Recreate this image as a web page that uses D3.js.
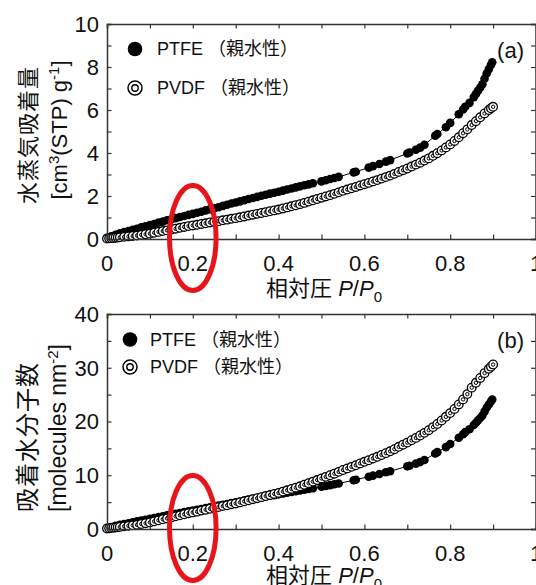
<!DOCTYPE html>
<html>
<head>
<meta charset="utf-8">
<script src="https://cdn.jsdelivr.net/npm/d3@7"></script>
<style>
body{margin:0;background:#fff;}
svg{display:block;}
text{font-family:'Liberation Sans', Arial, 'Noto Sans CJK JP', sans-serif;fill:#111;}
</style>
</head>
<body>
<svg id="chart" width="536" height="585"></svg>
<script>
// ---------------- data ----------------
const xTicks = [0, 0.2, 0.4, 0.6, 0.8, 1];
const yTicksA = [0, 2, 4, 6, 8, 10];
const yTicksB = [0, 10, 20, 30, 40];
const legendNames = ["PTFE （親水性）", "PVDF （親水性）"];
const panelLabels = ["(a)", "(b)"];

const xPTFE = [0, 0.005, 0.01, 0.02, 0.03, 0.04, 0.05, 0.06, 0.07, 0.08, 0.09, 0.1, 0.11, 0.12, 0.13, 0.14, 0.15, 0.16, 0.17, 0.18, 0.19, 0.2, 0.21, 0.22, 0.23, 0.24, 0.25, 0.26, 0.27, 0.28, 0.29, 0.3, 0.31, 0.32, 0.33, 0.34, 0.35, 0.36, 0.37, 0.38, 0.39, 0.4, 0.41, 0.42, 0.43, 0.44, 0.45, 0.46, 0.47, 0.48,
  0.5, 0.51, 0.52, 0.53, 0.54, 0.575, 0.58, 0.61, 0.62, 0.635, 0.65, 0.66, 0.7, 0.705, 0.72, 0.73, 0.74, 0.765, 0.77, 0.79, 0.8,
  0.82, 0.83, 0.835, 0.845, 0.855, 0.86, 0.865, 0.87, 0.875, 0.88, 0.885, 0.89, 0.895, 0.898];
const ptfeA = [0.02, 0.08, 0.13, 0.2, 0.26, 0.32, 0.37, 0.43, 0.48, 0.54, 0.59, 0.65, 0.7, 0.76, 0.81, 0.87, 0.92, 0.97, 1.02, 1.07, 1.12, 1.17, 1.22, 1.27, 1.33, 1.38, 1.43, 1.48, 1.54, 1.59, 1.65, 1.7, 1.75, 1.8, 1.86, 1.91, 1.96, 2.01, 2.06, 2.11, 2.15, 2.2, 2.25, 2.3, 2.35, 2.4, 2.45, 2.5, 2.54, 2.59,
  2.68, 2.73, 2.79, 2.84, 2.89, 3.1, 3.13, 3.32, 3.39, 3.49, 3.6, 3.67, 3.98, 4.02, 4.15, 4.25, 4.38, 4.8, 4.88, 5.2, 5.4,
  5.8, 6.02, 6.15, 6.33, 6.6, 6.75, 6.9, 7.05, 7.2, 7.45, 7.7, 7.9, 8.1, 8.22];
const ptfeB = [0.06, 0.23, 0.38, 0.59, 0.76, 0.94, 1.08, 1.26, 1.41, 1.58, 1.73, 1.9, 2.05, 2.23, 2.37, 2.55, 2.7, 2.84, 2.99, 3.14, 3.28, 3.43, 3.57, 3.72, 3.9, 4.04, 4.19, 4.34, 4.51, 4.66, 4.83, 4.98, 5.13, 5.27, 5.45, 5.6, 5.74, 5.89, 6.04, 6.18, 6.3, 6.45, 6.59, 6.74, 6.89, 7.03, 7.18, 7.33, 7.44, 7.59,
  7.85, 8.0, 8.17, 8.32, 8.47, 9.08, 9.17, 9.73, 9.93, 10.23, 10.55, 10.75, 11.66, 11.78, 12.16, 12.45, 12.83, 14.06, 14.3, 15.24, 15.82,
  16.99, 17.64, 18.02, 18.55, 19.34, 19.78, 20.22, 20.66, 21.1, 21.83, 22.56, 23.15, 23.73, 24.08];

const xPVDF = [0, 0.005, 0.01, 0.015, 0.02, 0.025, 0.03,
  0.04, 0.05, 0.06, 0.07, 0.08, 0.09, 0.1, 0.11, 0.12, 0.13,
  0.14, 0.15, 0.16, 0.17, 0.18, 0.19, 0.2, 0.21, 0.22, 0.23,
  0.24, 0.25, 0.26, 0.27, 0.28, 0.29, 0.3, 0.31, 0.32, 0.33,
  0.34, 0.35, 0.36, 0.37, 0.38, 0.39, 0.4, 0.41, 0.42, 0.43,
  0.44, 0.45, 0.46, 0.47, 0.48, 0.49, 0.5, 0.51, 0.52, 0.53,
  0.54, 0.55, 0.56, 0.57, 0.58, 0.59, 0.6, 0.61, 0.62, 0.63,
  0.64, 0.65, 0.66, 0.67, 0.68, 0.69, 0.7, 0.71, 0.72, 0.73,
  0.74, 0.75, 0.76, 0.77, 0.78, 0.79, 0.8, 0.81, 0.82, 0.83,
  0.84, 0.85, 0.86, 0.87, 0.88, 0.89, 0.895, 0.9];
const pvdfA = [0.02, 0.03, 0.04, 0.05, 0.06, 0.07, 0.08,
  0.1, 0.12, 0.14, 0.16, 0.19, 0.22, 0.25, 0.29, 0.33, 0.37,
  0.4, 0.44, 0.48, 0.52, 0.56, 0.6, 0.63, 0.66, 0.7, 0.73,
  0.77, 0.8, 0.83, 0.87, 0.9, 0.94, 0.97, 1.01, 1.05, 1.09,
  1.13, 1.17, 1.21, 1.25, 1.29, 1.33, 1.37, 1.42, 1.47, 1.52,
  1.57, 1.62, 1.68, 1.74, 1.8, 1.86, 1.92, 1.98, 2.04, 2.1,
  2.17, 2.24, 2.3, 2.36, 2.42, 2.49, 2.55, 2.61, 2.68, 2.74,
  2.81, 2.88, 2.95, 3.03, 3.12, 3.2, 3.28, 3.37, 3.46, 3.55,
  3.65, 3.75, 3.87, 3.99, 4.12, 4.26, 4.4, 4.56, 4.73, 4.92,
  5.1, 5.3, 5.48, 5.66, 5.84, 6.0, 6.08, 6.15];
const pvdfB = [0.1, 0.15, 0.2, 0.25, 0.29, 0.34, 0.39,
  0.49, 0.59, 0.69, 0.78, 0.93, 1.08, 1.23, 1.42, 1.62, 1.81,
  1.96, 2.16, 2.35, 2.55, 2.74, 2.94, 3.09, 3.23, 3.43, 3.58,
  3.77, 3.92, 4.07, 4.26, 4.41, 4.61, 4.75, 4.95, 5.15, 5.34,
  5.54, 5.73, 5.93, 6.13, 6.32, 6.52, 6.71, 6.96, 7.2, 7.45,
  7.69, 7.94, 8.23, 8.53, 8.82, 9.11, 9.41, 9.7, 10.0, 10.29,
  10.63, 10.98, 11.27, 11.56, 11.86, 12.2, 12.5, 12.79, 13.13, 13.43,
  13.77, 14.11, 14.46, 14.85, 15.29, 15.68, 16.07, 16.51, 16.95, 17.4,
  17.89, 18.38, 18.96, 19.55, 20.19, 20.87, 21.56, 22.34, 23.18, 24.11,
  25.1, 26.3, 27.2, 28.1, 29.0, 29.8, 30.2, 30.6];

// ---------------- drawing ----------------
const svg = d3.select("#chart");
const AX = "#333";
const RED = "#e8141b";

const panels = [
  { top: 24, bottom: 239, ymax: 10, yTicks: yTicksA, yMinor: 1, ptfe: ptfeA, pvdf: pvdfA, label: panelLabels[0],
    legY: [49, 88], legMX: 135, legTX: 157,
    yTitle1: "水蒸気吸着量", t1x: 28, t1y: 135, t1size: 22,
    yTitle2: [["[cm", 0], ["3", 1], ["(STP) g", 0], ["-1", 1], ["]", 0]], t2x: 59, t2y: 130, t2size: 22,
    xtickBase: 271, xtitleBase: 296, labelBase: 57.5 },
  { top: 314, bottom: 529, ymax: 40, yTicks: yTicksB, yMinor: 5, ptfe: ptfeB, pvdf: pvdfB, label: panelLabels[1],
    legY: [339.5, 367], legMX: 130, legTX: 150,
    yTitle1: "吸着水分子数", t1x: 27, t1y: 437, t1size: 24,
    yTitle2: [["[molecules nm", 0], ["-2", 1], ["]", 0]], t2x: 58, t2y: 428, t2size: 23,
    xtickBase: 561, xtitleBase: 583, labelBase: 347.5 }
];

const left = 107, right = 536;
const x = d3.scaleLinear().domain([0, 1]).range([left, right]);

panels.forEach(p => {
  const y = d3.scaleLinear().domain([0, p.ymax]).range([p.bottom, p.top]);
  const g = svg.append("g");

  // data
  const line = d3.line().x(d => x(d[0])).y(d => y(d[1]));
  const ptfeData = xPTFE.map((v, i) => [v, p.ptfe[i]]);
  const pvdfData = xPVDF.map((v, i) => [v, p.pvdf[i]]);

  g.append("path").datum(ptfeData).attr("d", line)
    .attr("fill", "none").attr("stroke", "#000").attr("stroke-width", 1);
  g.selectAll(".ptfe").data(ptfeData).join("circle")
    .attr("cx", d => x(d[0])).attr("cy", d => y(d[1])).attr("r", 4.3).attr("fill", "#000");

  g.append("path").datum(pvdfData).attr("d", line)
    .attr("fill", "none").attr("stroke", "#000").attr("stroke-width", 0.8);
  const pv = g.selectAll(".pvdf").data(pvdfData).join("g")
    .attr("transform", d => `translate(${x(d[0])},${y(d[1])})`);
  pv.append("circle").attr("r", 4.3).attr("fill", "#fff").attr("stroke", "#000").attr("stroke-width", 1.3);
  pv.append("circle").attr("r", 1.7).attr("fill", "none").attr("stroke", "#000").attr("stroke-width", 1);

  // axes (ticks inward, all four sides)
  const xMinor = d3.range(0, 1.0001, 0.1);
  const yMinor = d3.range(0, p.ymax + 0.0001, p.yMinor);
  const bottomAxis = d3.axisTop(x).tickValues(xMinor).tickSize(4.5).tickFormat("");
  const topAxis = d3.axisBottom(x).tickValues(xMinor).tickSize(4.5).tickFormat("");
  const leftAxis = d3.axisRight(y).tickValues(yMinor).tickSize(4.5).tickFormat("");
  const rightAxis = d3.axisLeft(y).tickValues(yMinor).tickSize(4.5).tickFormat("");
  const axes = [
    [bottomAxis, `translate(0,${p.bottom})`],
    [topAxis, `translate(0,${p.top})`],
    [leftAxis, `translate(${left},0)`],
    [rightAxis, `translate(${right - 0.5},0)`]
  ];
  axes.forEach(([ax, tr]) => {
    const a = g.append("g").attr("transform", tr).call(ax);
    a.select(".domain").attr("stroke", AX).attr("stroke-width", 1.5);
    a.selectAll(".tick line").attr("stroke", AX).attr("stroke-width", 1.2);
  });

  // tick labels
  g.selectAll(".xl").data(xTicks).join("text")
    .attr("x", d => x(d)).attr("y", p.xtickBase)
    .attr("text-anchor", "middle").attr("font-size", 22)
    .text(d => d3.format("")(d));
  g.selectAll(".yl").data(p.yTicks).join("text")
    .attr("x", 99).attr("y", d => y(d)).attr("dy", "0.36em")
    .attr("text-anchor", "end").attr("font-size", 22)
    .text(d => d);

  // x title
  const xt = g.append("text").attr("x", 266).attr("y", p.xtitleBase).attr("font-size", 22);
  xt.append("tspan").text("相対圧 ");
  xt.append("tspan").attr("font-style", "italic").text("P");
  xt.append("tspan").text("/");
  xt.append("tspan").attr("font-style", "italic").text("P");
  xt.append("tspan").attr("font-size", 15).attr("dy", 6).text("0");

  // y title
  g.append("text")
    .attr("transform", `translate(${p.t1x},${p.t1y}) rotate(-90)`)
    .attr("text-anchor", "middle").attr("dominant-baseline", "central")
    .attr("font-size", p.t1size).attr("letter-spacing", 1)
    .text(p.yTitle1);
  const t2 = g.append("text")
    .attr("transform", `translate(${p.t2x + 8},${p.t2y}) rotate(-90)`)
    .attr("text-anchor", "middle")
    .attr("font-size", p.t2size);
  let prevSup = 0;
  p.yTitle2.forEach(([s, sup]) => {
    const ts = t2.append("tspan").text(s);
    const dy = (sup ? -8 : 0) - (prevSup ? -8 : 0);
    if (dy) ts.attr("dy", dy);
    if (sup) ts.attr("font-size", 15);
    prevSup = sup;
  });

  // panel label
  g.append("text").attr("x", 524).attr("y", p.labelBase).attr("text-anchor", "end")
    .attr("font-size", 22).text(p.label);

  // legend
  g.append("circle").attr("cx", p.legMX).attr("cy", p.legY[0]).attr("r", 7.3).attr("fill", "#000");
  g.append("circle").attr("cx", p.legMX).attr("cy", p.legY[1]).attr("r", 7).attr("fill", "#fff")
    .attr("stroke", "#000").attr("stroke-width", 1.5);
  g.append("circle").attr("cx", p.legMX).attr("cy", p.legY[1]).attr("r", 3.2).attr("fill", "none")
    .attr("stroke", "#000").attr("stroke-width", 1.4);
  legendNames.forEach((n, i) => {
    g.append("text").attr("x", p.legTX).attr("y", p.legY[i]).attr("dy", "0.36em")
      .attr("font-size", 18).text(n);
  });

  // red highlight ellipse around P/P0 = 0.2
  g.append("ellipse").attr("cx", x(0.2)).attr("cy", y(0) - 1)
    .attr("rx", 23.3).attr("ry", 52.5)
    .attr("fill", "none").attr("stroke", RED).attr("stroke-width", 5);
});
</script>
</body>
</html>
